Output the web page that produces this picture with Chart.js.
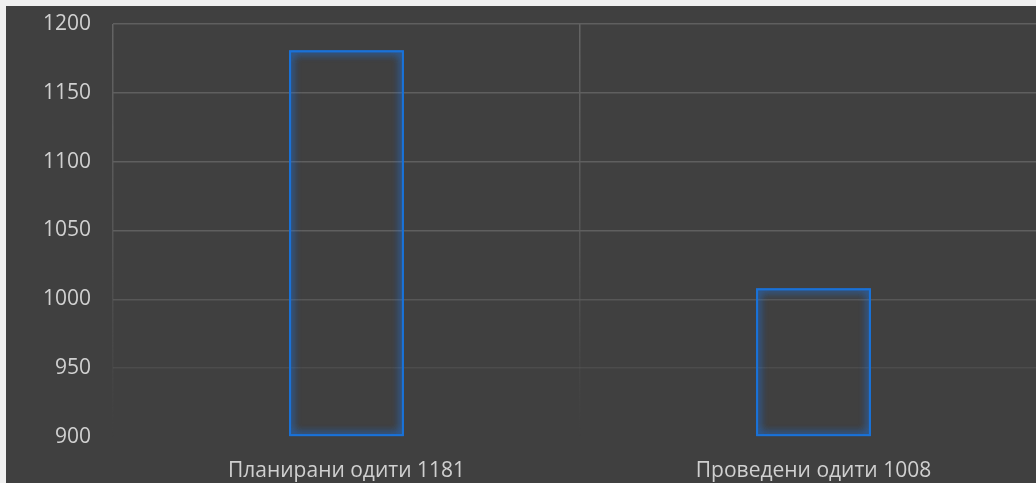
<!DOCTYPE html>
<html>
<head>
<meta charset="utf-8">
<script src="https://cdn.jsdelivr.net/npm/chart.js@4/dist/chart.umd.min.js"></script>
<style>
  html, body { margin:0; padding:0; width:1036px; height:483px; overflow:hidden; background:#f0f0f0; }
  #wrap { position:absolute; left:6px; top:6px; width:1042px; height:477px; background:#404040; }
  canvas { display:block; }
</style>
</head>
<body>
<div id="wrap"><canvas id="c" width="1042" height="477"></canvas></div>
<script>
const categories = ["Планирани одити 1181", "Проведени одити 1008"];
const auditValues = [1181, 1008];
const yMin = 900, yMax = 1200, yStep = 50;

const glow = {
  id: 'glow',
  beforeDatasetDraw(chart) {
    const ctx = chart.ctx;
    ctx.save();
    ctx.shadowColor = 'rgba(30,120,235,1)';
    ctx.shadowBlur = 8;
  },
  afterDatasetDraw(chart, args) {
    const ctx = chart.ctx;
    args.meta.data.forEach(el => el.draw(ctx, chart.chartArea));
    ctx.restore();
  }
};

function vGrad(ctx) {
  const chart = ctx.chart;
  const a = chart.chartArea;
  if (!a) return '#575757';
  const g = chart.ctx.createLinearGradient(0, a.top, 0, a.bottom);
  g.addColorStop(0, 'rgba(100,100,100,1)');
  g.addColorStop(0.55, 'rgba(90,90,90,0.8)');
  g.addColorStop(1, 'rgba(80,80,80,0)');
  return g;
}

new Chart(document.getElementById('c'), {
  type: 'bar',
  data: {
    labels: categories,
    datasets: [{
      data: auditValues,
      base: yMin,
      backgroundColor: 'rgba(0,0,0,0)',
      borderColor: '#1a72d8',
      borderWidth: 2,
      borderSkipped: false,
      categoryPercentage: 1,
      barPercentage: 0.246,
      clip: 20
    }]
  },
  plugins: [glow],
  options: {
    responsive: false,
    animation: false,
    devicePixelRatio: 1,
    layout: { padding: { top: 18, right: 1, left: 0, bottom: 0 } },
    plugins: { legend: { display: false }, tooltip: { enabled: false } },
    scales: {
      x: {
        grid: { color: vGrad, lineWidth: 1.5, drawTicks: false, offset: true },
        border: { display: false },
        ticks: { color: '#d0d0d0', font: { family: 'Open Sans', size: 21 }, padding: 21, maxRotation: 0 },
        afterFit(s) { s.height = 46; s.paddingLeft = 0; s.paddingRight = 0; }
      },
      y: {
        min: yMin, max: yMax,
        grid: {
          drawTicks: false, lineWidth: 1.5,
          color: (c) => {
            const v = c.tick ? c.tick.value : 0;
            if (v <= 900) return 'rgba(0,0,0,0)';
            if (v <= 950) return 'rgba(90,90,90,0.45)';
            if (v <= 1000) return 'rgba(92,92,92,0.8)';
            return 'rgba(95,95,95,1)';
          }
        },
        border: { display: false },
        ticks: { stepSize: yStep, color: '#d0d0d0', font: { family: 'Open Sans', size: 21 }, padding: 22,
                 callback: (v) => String(v) },
        afterFit(s) { s.width = 107; s.paddingTop = 0; s.paddingBottom = 0; }
      }
    }
  }
});
</script>
</body>
</html>
